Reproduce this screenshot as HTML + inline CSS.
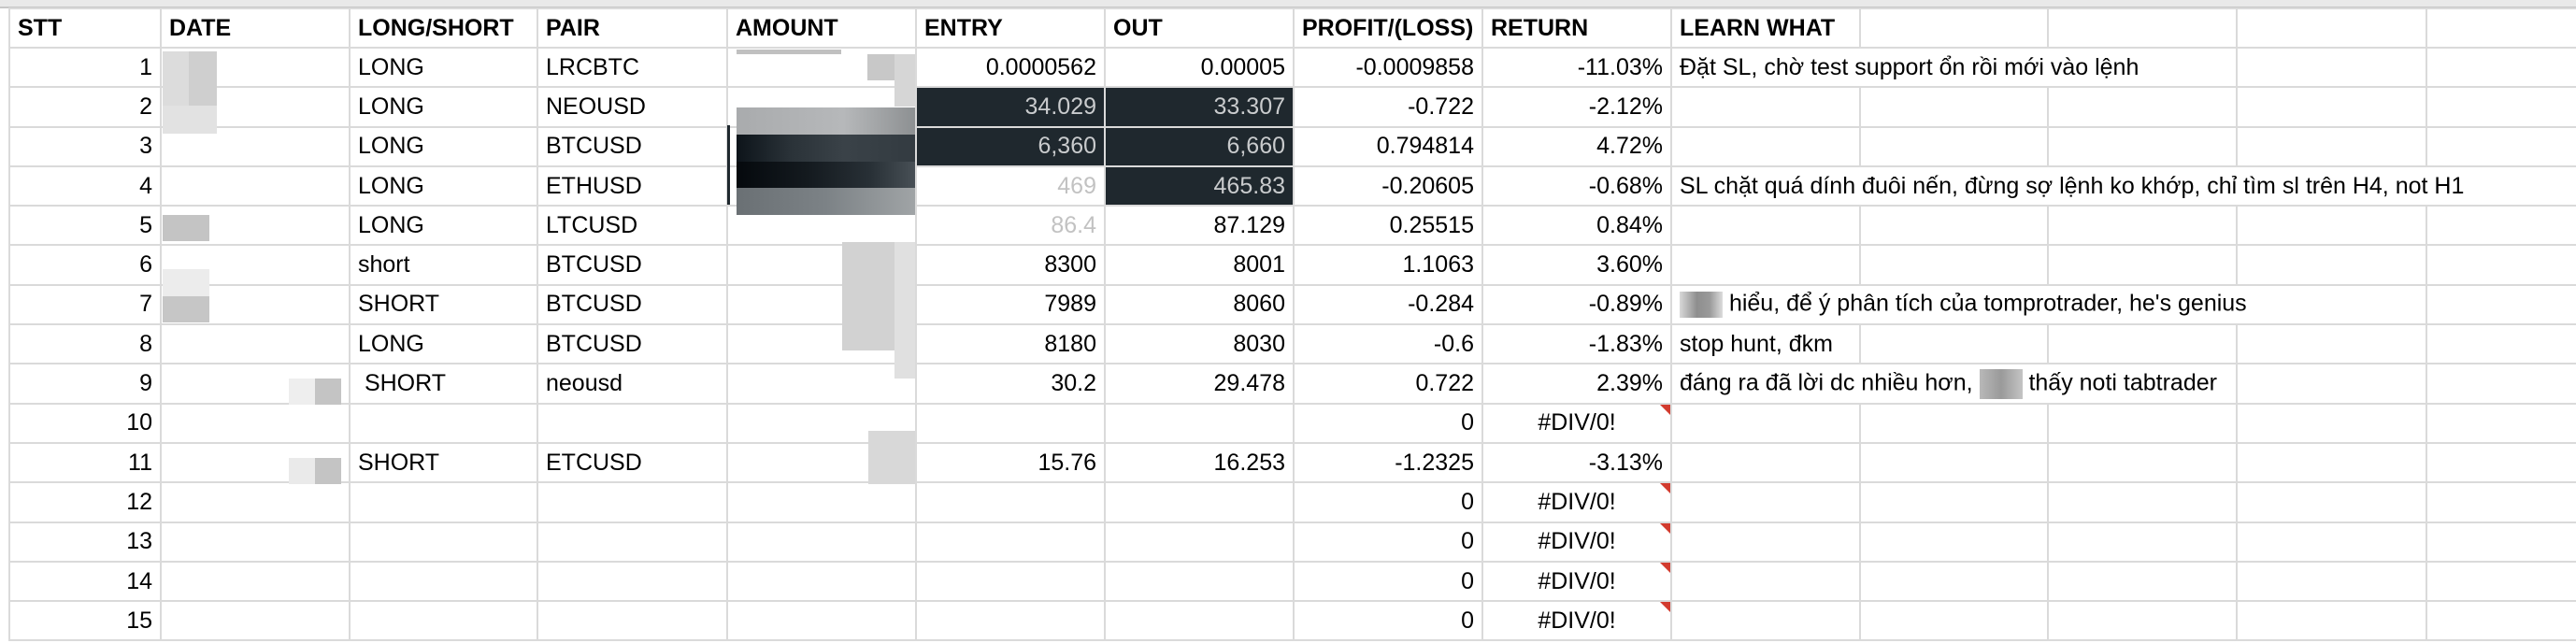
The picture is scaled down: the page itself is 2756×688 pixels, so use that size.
<!DOCTYPE html>
<html><head><meta charset="utf-8">
<style>
html,body{margin:0;padding:0;background:#fff;width:2756px;height:688px;overflow:hidden;}
body{position:relative;font-family:"Liberation Sans",Arial,sans-serif;font-size:25px;color:#000;}
.top{position:absolute;left:0;top:0;width:2756px;height:9px;background:#e9e9e9;border-bottom:2px solid #c6c6c6;box-sizing:border-box;}
table{position:absolute;left:9px;top:8px;border-collapse:collapse;table-layout:fixed;width:2957px;}
td{border:2px solid #dadada;height:40.3px;padding:0 8px;white-space:nowrap;overflow:visible;position:relative;line-height:25px;}
tr.h td{font-weight:bold;height:40px;}
.r{text-align:right;}
.c{text-align:center;}
.d{background:#1f282e;color:#c9cbcd;}
.g{color:#c2c2c2;}
.tri{position:absolute;right:0;top:0;width:0;height:0;border-top:11px solid #d23b2e;border-left:11px solid transparent;}
.b{position:absolute;z-index:2;}
</style></head><body>
<div class="top"></div>
<table>
<colgroup>
<col style="width:162px"><col style="width:202px"><col style="width:201px"><col style="width:203px"><col style="width:202px"><col style="width:202px"><col style="width:202px"><col style="width:202px"><col style="width:202px"><col style="width:202px"><col style="width:201px"><col style="width:202px"><col style="width:203px"><col style="width:201px"><col style="width:170px">
</colgroup>
<tr class="h"><td>STT</td><td>DATE</td><td>LONG/SHORT</td><td>PAIR</td><td>AMOUNT</td><td>ENTRY</td><td>OUT</td><td>PROFIT/(LOSS)</td><td>RETURN</td><td>LEARN WHAT</td><td></td><td></td><td></td><td></td><td></td></tr>
<tr><td class="r">1</td><td></td><td>LONG</td><td>LRCBTC</td><td></td><td class="r">0.0000562</td><td class="r">0.00005</td><td class="r">-0.0009858</td><td class="r">-11.03%</td><td colspan="3">Đặt SL, chờ test support ổn rồi mới vào lệnh</td><td></td><td></td><td></td></tr>
<tr><td class="r">2</td><td></td><td>LONG</td><td>NEOUSD</td><td></td><td class="r d">34.029</td><td class="r d">33.307</td><td class="r">-0.722</td><td class="r">-2.12%</td><td></td><td></td><td></td><td></td><td></td><td></td></tr>
<tr><td class="r">3</td><td></td><td>LONG</td><td>BTCUSD</td><td></td><td class="r d">6,360</td><td class="r d">6,660</td><td class="r">0.794814</td><td class="r">4.72%</td><td></td><td></td><td></td><td></td><td></td><td></td></tr>
<tr><td class="r">4</td><td></td><td>LONG</td><td>ETHUSD</td><td></td><td class="r g">469</td><td class="r d">465.83</td><td class="r">-0.20605</td><td class="r">-0.68%</td><td colspan="5">SL chặt quá dính đuôi nến, đừng sợ lệnh ko khớp, chỉ tìm sl trên H4, not H1</td><td></td></tr>
<tr><td class="r">5</td><td></td><td>LONG</td><td>LTCUSD</td><td></td><td class="r g">86.4</td><td class="r">87.129</td><td class="r">0.25515</td><td class="r">0.84%</td><td></td><td></td><td></td><td></td><td></td><td></td></tr>
<tr><td class="r">6</td><td></td><td>short</td><td>BTCUSD</td><td></td><td class="r">8300</td><td class="r">8001</td><td class="r">1.1063</td><td class="r">3.60%</td><td></td><td></td><td></td><td></td><td></td><td></td></tr>
<tr><td class="r">7</td><td></td><td>SHORT</td><td>BTCUSD</td><td></td><td class="r">7989</td><td class="r">8060</td><td class="r">-0.284</td><td class="r">-0.89%</td><td colspan="4"><span style="display:inline-block;width:46px;height:28px;background:linear-gradient(90deg,#d8d8d8,#8e8e8e 40%,#9a9a9a 70%,#dcdcdc);vertical-align:middle"></span> hiểu, để ý phân tích của tomprotrader, he's genius</td><td></td><td></td></tr>
<tr><td class="r">8</td><td></td><td>LONG</td><td>BTCUSD</td><td></td><td class="r">8180</td><td class="r">8030</td><td class="r">-0.6</td><td class="r">-1.83%</td><td>stop hunt, đkm</td><td></td><td></td><td></td><td></td><td></td></tr>
<tr><td class="r">9</td><td></td><td>&nbsp;SHORT</td><td>neousd</td><td></td><td class="r">30.2</td><td class="r">29.478</td><td class="r">0.722</td><td class="r">2.39%</td><td colspan="3">đáng ra đã lời dc nhiều hơn, <span style="display:inline-block;width:46px;height:32px;background:linear-gradient(90deg,#b8b8b8,#9a9a9a 50%,#c4c4c4);vertical-align:middle"></span> thấy noti tabtrader</td><td></td><td></td><td></td></tr>
<tr><td class="r">10</td><td></td><td></td><td></td><td></td><td></td><td></td><td class="r">0</td><td class="c">#DIV/0!<span class="tri"></span></td><td></td><td></td><td></td><td></td><td></td><td></td></tr>
<tr><td class="r">11</td><td></td><td>SHORT</td><td>ETCUSD</td><td></td><td class="r">15.76</td><td class="r">16.253</td><td class="r">-1.2325</td><td class="r">-3.13%</td><td></td><td></td><td></td><td></td><td></td><td></td></tr>
<tr><td class="r">12</td><td></td><td></td><td></td><td></td><td></td><td></td><td class="r">0</td><td class="c">#DIV/0!<span class="tri"></span></td><td></td><td></td><td></td><td></td><td></td><td></td></tr>
<tr><td class="r">13</td><td></td><td></td><td></td><td></td><td></td><td></td><td class="r">0</td><td class="c">#DIV/0!<span class="tri"></span></td><td></td><td></td><td></td><td></td><td></td><td></td></tr>
<tr><td class="r">14</td><td></td><td></td><td></td><td></td><td></td><td></td><td class="r">0</td><td class="c">#DIV/0!<span class="tri"></span></td><td></td><td></td><td></td><td></td><td></td><td></td></tr>
<tr><td class="r">15</td><td></td><td></td><td></td><td></td><td></td><td></td><td class="r">0</td><td class="c">#DIV/0!<span class="tri"></span></td><td></td><td></td><td></td><td></td><td></td><td></td></tr>
</table>
<!-- blurred blocks -->
<div class="b" style="left:174px;top:55px;width:28px;height:58px;background:#dcdcdc"></div>
<div class="b" style="left:202px;top:55px;width:30px;height:58px;background:#cfcfcf"></div>
<div class="b" style="left:174px;top:113px;width:58px;height:30px;background:#e2e2e2"></div>
<div class="b" style="left:174px;top:230px;width:50px;height:28px;background:#c4c4c4"></div>
<div class="b" style="left:174px;top:288px;width:50px;height:29px;background:#ececec"></div>
<div class="b" style="left:174px;top:317px;width:50px;height:28px;background:#c6c6c6"></div>
<div class="b" style="left:309px;top:405px;width:28px;height:28px;background:#eeeeee"></div>
<div class="b" style="left:337px;top:405px;width:28px;height:28px;background:#c4c4c4"></div>
<div class="b" style="left:309px;top:490px;width:28px;height:28px;background:#eaeaea"></div>
<div class="b" style="left:337px;top:490px;width:28px;height:28px;background:#c4c4c4"></div>

<div class="b" style="left:788px;top:53px;width:112px;height:5px;background:#c0c0c0"></div>
<div class="b" style="left:928px;top:58px;width:29px;height:28px;background:#c8c8c8"></div>
<div class="b" style="left:957px;top:58px;width:22px;height:56px;background:#d6d6d6"></div>
<div class="b" style="left:788px;top:115px;width:191px;height:29px;background:linear-gradient(90deg,#a9abad,#b6b8ba 60%,#8d9092)"></div>
<div class="b" style="left:788px;top:144px;width:191px;height:29px;background:linear-gradient(90deg,#0d141a,#2a3238 30%,#3a4248 60%,#333b41)"></div>
<div class="b" style="left:788px;top:173px;width:191px;height:28px;background:linear-gradient(90deg,#05090d,#141a1f 40%,#283036 75%,#485056)"></div>
<div class="b" style="left:788px;top:201px;width:191px;height:29px;background:linear-gradient(90deg,#6a7074,#7c8286 50%,#a0a4a6)"></div>
<div class="b" style="left:778px;top:134px;width:3px;height:85px;background:#1f282e"></div>
<div class="b" style="left:901px;top:259px;width:56px;height:116px;background:#d2d2d2"></div>
<div class="b" style="left:957px;top:259px;width:22px;height:146px;background:#e0e0e0"></div>
<div class="b" style="left:929px;top:461px;width:50px;height:57px;background:#d8d8d8"></div>
</body></html>
